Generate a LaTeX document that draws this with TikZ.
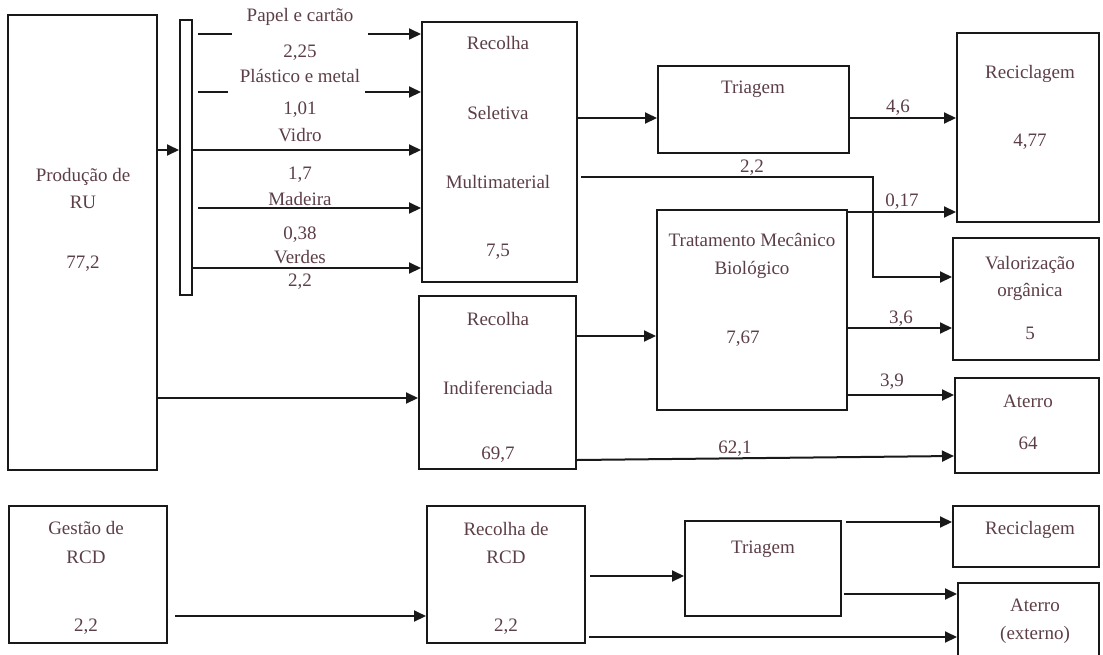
\documentclass[tikz,border=0pt]{standalone}
\usepackage{fontspec}
\setmainfont{Liberation Serif}
\usetikzlibrary{positioning, arrows.meta, fit}

\definecolor{textBrown}{RGB}{92,62,70}
\definecolor{lineDark}{RGB}{25,25,25}

\tikzset{
  box/.style={draw=lineDark, line width=2pt, inner sep=0pt},
  txt/.style={text=textBrown, font=\rmfamily\fontsize{19}{22}\selectfont, inner sep=0pt, text height=12pt, text depth=0pt},
  flow/.style={draw=lineDark, line width=2pt, -{Triangle[length=12pt,width=11pt]}},
  plain/.style={draw=lineDark, line width=2pt},
}

\begin{document}
\begin{tikzpicture}[x=1pt, y=-1pt]
  \useasboundingbox (0,0) rectangle (1103,654);

  % boxes
  \node[box, fit={(8,15) (157,470)}] (ru) {};
  \node[box, fill=white, fit={(180,20) (192,295)}] (bar) {};
  \node[box, fit={(422,22) (577,282)}] (sel) {};
  \node[box, fit={(419,296) (576,469)}] (ind) {};
  \node[box, fit={(658,66) (849,153)}] (tri) {};
  \node[box, fit={(657,210) (847,410)}] (tmb) {};
  \node[box, fit={(957,33) (1099,222)}] (rec) {};
  \node[box, fit={(953,238) (1099,360)}] (val) {};
  \node[box, fit={(955,378) (1099,473)}] (ate) {};
  \node[box, fit={(9,506) (167,643)}] (rcd) {};
  \node[box, fit={(427,506) (585,643)}] (rrcd) {};
  \node[box, fit={(685,521) (841,616)}] (trcd) {};
  \node[box, fit={(953,506) (1099,567)}] (recB) {};
  \node[box, fit={(958,583) (1099,680)}] (atex) {};

  % box texts
  \node[txt] (ruA) at (83,175) {Produção de};
  \node[txt] (ruB) at (83,202) {RU};
  \node[txt] (ruC) at (83,262) {77,2};
  \node[txt] (selA) at (498,43) {Recolha};
  \node[txt] (selB) at (498,113) {Seletiva};
  \node[txt] (selC) at (498,182) {Multimaterial};
  \node[txt] (selD) at (498,250) {7,5};
  \node[txt] (indA) at (498,319) {Recolha};
  \node[txt] (indB) at (498,388) {Indiferenciada};
  \node[txt] (indC) at (498,453) {69,7};
  \node[txt] (triA) at (753,87) {Triagem};
  \node[txt] (tmbA) at (752,240) {Tratamento Mecânico};
  \node[txt] (tmbB) at (752,268) {Biológico};
  \node[txt] (tmbC) at (743,337) {7,67};
  \node[txt] (recA) at (1030,72) {Reciclagem};
  \node[txt] (recC) at (1030,140) {4,77};
  \node[txt] (valA) at (1030,263) {Valorização};
  \node[txt] (valB) at (1030,290) {orgânica};
  \node[txt] (valC) at (1030,333) {5};
  \node[txt] (ateA) at (1028,401) {Aterro};
  \node[txt] (ateB) at (1028,443) {64};
  \node[txt] (rcdA) at (86,528) {Gestão de};
  \node[txt] (rcdB) at (86,557) {RCD};
  \node[txt] (rcdC) at (86,625) {2,2};
  \node[txt] (rrcdA) at (506,529) {Recolha de};
  \node[txt] (rrcdB) at (506,557) {RCD};
  \node[txt] (rrcdC) at (506,625) {2,2};
  \node[txt] (trcdA) at (763,547) {Triagem};
  \node[txt] (recBA) at (1030,528) {Reciclagem};
  \node[txt] (atexA) at (1035,605) {Aterro};
  \node[txt] (atexB) at (1035,633) {(externo)};

  % material labels
  \node[txt] (papel) at (300,15) {Papel e cartão};
  \node[txt] (papelV) at (300,51) {2,25};
  \node[txt] (plast) at (300,76) {Plástico e metal};
  \node[txt] (plastV) at (300,108) {1,01};
  \node[txt] (vidro) at (300,135) {Vidro};
  \node[txt] (vidroV) at (300,173) {1,7};
  \node[txt] (madeira) at (300,199) {Madeira};
  \node[txt] (madeiraV) at (300,233) {0,38};
  \node[txt] (verdes) at (300,257) {Verdes};
  \node[txt] (verdesV) at (300,280) {2,2};

  % flow values
  \node[txt] (fSelVal) at (752,166) {2,2};
  \node[txt] (fTriRec) at (898,106) {4,6};
  \node[txt] (fTmbRec) at (902,200) {0,17};
  \node[txt] (fTmbVal) at (901,317) {3,6};
  \node[txt] (fTmbAte) at (892,380) {3,9};
  \node[txt] (fIndAte) at (735,447) {62,1};

  % free ends of the split lines
  \coordinate (papelA) at (232,34);
  \coordinate (papelB) at (368,34);
  \coordinate (plastA) at (228,92);
  \coordinate (plastB) at (365,92);
  \coordinate (bendA) at (873,177);

  % connectors
  \draw[flow] (ru.east |- 0,150) -- (bar.west |- 0,150);
  \draw[plain, shorten <=5pt] (bar.east |- papelA) -- (papelA);
  \draw[flow] (papelB) -- (sel.west |- papelB);
  \draw[plain, shorten <=5pt] (bar.east |- plastA) -- (plastA);
  \draw[flow] (plastB) -- (sel.west |- plastB);
  \draw[flow] (bar.east |- 0,150) -- (sel.west |- 0,150);
  \draw[flow, shorten <=5pt] (bar.east |- 0,208) -- (sel.west |- 0,208);
  \draw[flow] (bar.east |- 0,268) -- (sel.west |- 0,268);

  \draw[flow] (sel.east |- 0,118) -- (tri.west |- 0,118);
  \draw[flow, shorten <=3pt] (sel.east |- bendA) -- (bendA) |- (val.west |- 0,277);
  \draw[flow] (tri.east |- 0,118) -- (rec.west |- 0,118);
  \draw[flow] (tmb.east |- 0,212) -- (rec.west |- 0,212);
  \draw[flow] (ind.east |- 0,336) -- (tmb.west |- 0,336);
  \draw[flow] (tmb.east |- 0,328) -- (val.west |- 0,328);
  \draw[flow] (tmb.east |- 0,395) -- (ate.west |- 0,395);
  \draw[flow] (ind.east |- 0,460) -- (ate.west |- 0,456);
  \draw[flow] (ru.east |- 0,398) -- (ind.west |- 0,398);

  \draw[flow, shorten <=7pt] (rcd.east |- 0,616) -- (rrcd.west |- 0,616);
  \draw[flow, shorten <=4pt] (rrcd.east |- 0,576) -- (trcd.west |- 0,576);
  \draw[flow, shorten <=3pt] (rrcd.east |- 0,637) -- (atex.west |- 0,637);
  \draw[flow, shorten <=4pt] (trcd.east |- 0,522) -- (recB.west |- 0,522);
  \draw[flow, shorten <=2pt] (trcd.east |- 0,594) -- (atex.west |- 0,594);
\end{tikzpicture}
\end{document}
